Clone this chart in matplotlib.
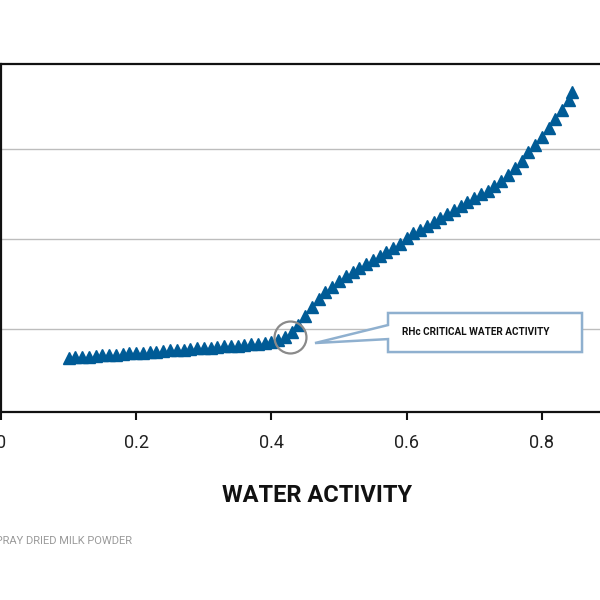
import matplotlib
matplotlib.use("Agg")
import matplotlib.pyplot as plt
from matplotlib.patches import Polygon

# ---- data ----
water_activity = [0.10, 0.11, 0.12, 0.13, 0.14, 0.15, 0.16, 0.17, 0.18, 0.19,
                  0.20, 0.21, 0.22, 0.23, 0.24, 0.25, 0.26, 0.27, 0.28, 0.29,
                  0.30, 0.31, 0.32, 0.33, 0.34, 0.35, 0.36, 0.37, 0.38, 0.39,
                  0.40, 0.41, 0.42, 0.43, 0.44, 0.45, 0.46, 0.47, 0.48, 0.49,
                  0.50, 0.51, 0.52, 0.53, 0.54, 0.55, 0.56, 0.57, 0.58, 0.59,
                  0.60, 0.61, 0.62, 0.63, 0.64, 0.65, 0.66, 0.67, 0.68, 0.69,
                  0.70, 0.71, 0.72, 0.73, 0.74, 0.75, 0.76, 0.77, 0.78, 0.79,
                  0.80, 0.81, 0.82, 0.83, 0.84, 0.845]
moisture = [3.39, 3.42, 3.44, 3.47, 3.50, 3.53, 3.56, 3.58, 3.61, 3.64,
            3.67, 3.69, 3.72, 3.75, 3.78, 3.81, 3.83, 3.86, 3.89, 3.92,
            3.94, 3.97, 4.00, 4.03, 4.06, 4.08, 4.11, 4.14, 4.17, 4.22,
            4.28, 4.39, 4.56, 4.83, 5.22, 5.72, 6.22, 6.67, 7.06, 7.33,
            7.67, 7.94, 8.17, 8.39, 8.61, 8.83, 9.06, 9.28, 9.50, 9.72,
            10.06, 10.33, 10.50, 10.72, 10.94, 11.17, 11.39, 11.61, 11.83, 12.06,
            12.28, 12.50, 12.67, 12.94, 13.22, 13.56, 13.94, 14.33, 14.83, 15.22,
            15.67, 16.17, 16.67, 17.17, 17.72, 18.17]

x_ticks = [0, 0.2, 0.4, 0.6, 0.8]
x_tick_labels = ["0", "0.2", "0.4", "0.6", "0.8"]
y_ticks = [5, 10, 15]

critical_aw = 0.4275
critical_m = 4.56

x_label = "WATER ACTIVITY"
note_text = "RHc CRITICAL WATER ACTIVITY"
caption = "SPRAY DRIED MILK POWDER"

BLUE = "#005b96"

fig = plt.figure(figsize=(6, 6), dpi=100)
W, H = 600, 600
ax = fig.add_axes([1 / W, (H - 412) / H, 676 / W, 348 / H])

ax.plot(water_activity, moisture, linestyle="none", marker="^",
        markersize=9, color=BLUE, markeredgecolor=BLUE, zorder=3)

ax.set_xlim(0, 1.0)
ax.set_ylim(0.39, 19.72)
ax.set_xticks(x_ticks)
ax.set_xticklabels(x_tick_labels, fontfamily="Roboto", fontsize=13, color="#222222")
ax.set_yticks(y_ticks)
ax.set_yticklabels([])
ax.tick_params(axis="x", direction="out", length=6, width=1.5, pad=10, color="#111111")
ax.tick_params(axis="y", length=0)
ax.yaxis.grid(True, color="#bdbdbd", linewidth=1)
ax.set_axisbelow(True)
for s in ["left", "bottom", "top"]:
    ax.spines[s].set_linewidth(1.6)
    ax.spines[s].set_color("#111111")
ax.spines["right"].set_visible(False)

# critical point circle
ax.plot([critical_aw], [critical_m], marker="o", markersize=23,
        markerfacecolor="none", markeredgecolor="#8a8a8a", markeredgewidth=1.6,
        linestyle="none", zorder=4)

# callout box with pointer
box = [(0.5725, 5.89), (0.8595, 5.89), (0.8595, 3.72), (0.5725, 3.72),
       (0.5725, 4.44), (0.4645, 4.22), (0.5725, 5.22)]
ax.add_patch(Polygon(box, closed=True, facecolor="white", edgecolor="#8fb0cf",
                     linewidth=1.8, zorder=5))
ax.text(0.7025, 4.83, note_text, ha="center", va="center", fontsize=7.2,
        fontweight="bold", fontfamily="Roboto", color="#111111", zorder=6)

fig.text(317 / W, 1 - 496 / H, x_label, ha="center", va="center",
         fontsize=17, fontweight="bold", fontfamily="Roboto", color="#111111")
fig.text(132 / W, 1 - 541 / H, caption, ha="right", va="center",
         fontsize=8, fontfamily="Roboto", color="#9a9a9a")

fig.savefig("out.png", dpi=100)
